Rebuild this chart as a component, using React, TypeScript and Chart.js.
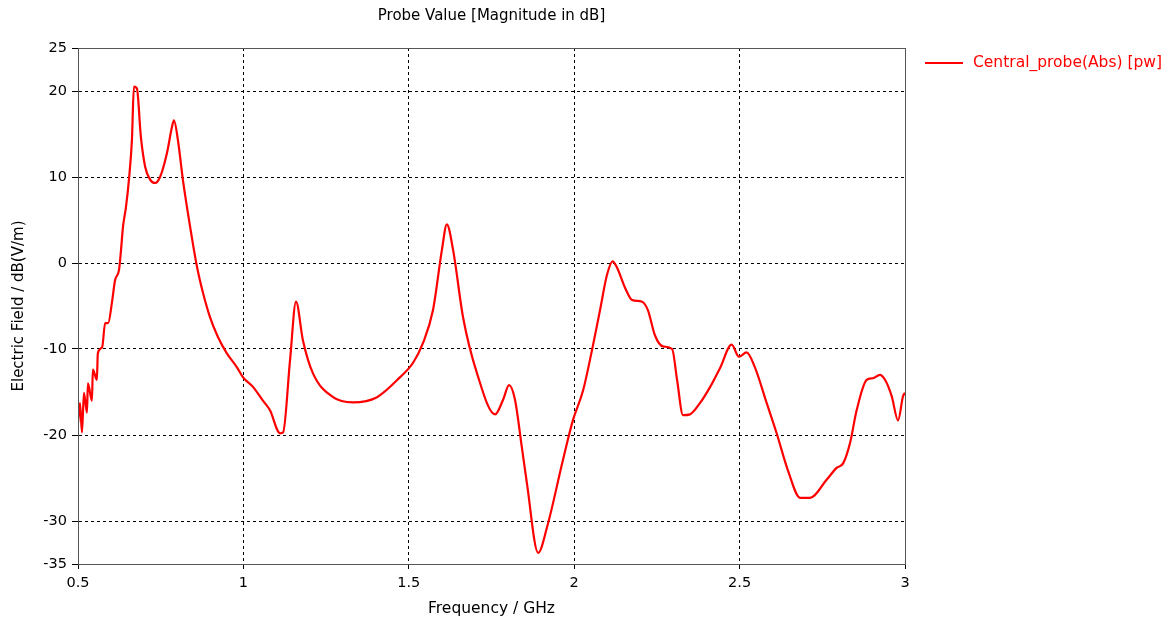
import { useEffect, useRef } from "react";
import { Chart, registerables } from "chart.js";

Chart.register(...registerables);

const frequencyGHz = [
  0.5, 0.506, 0.512, 0.518, 0.527, 0.53, 0.542, 0.545, 0.557, 0.56, 0.573, 0.582, 0.591, 0.603, 0.612,
  0.624, 0.63, 0.636, 0.645, 0.654, 0.663, 0.669, 0.678, 0.69, 0.703, 0.718, 0.733, 0.748, 0.769, 0.784,
  0.79, 0.802, 0.817, 0.839, 0.86, 0.878, 0.899, 0.923, 0.95, 0.98, 0.999, 1.029, 1.059, 1.08, 1.111,
  1.12, 1.141, 1.159, 1.18, 1.21, 1.271, 1.331, 1.404, 1.473, 1.513, 1.543, 1.573, 1.6, 1.615, 1.634,
  1.664, 1.706, 1.761, 1.785, 1.803, 1.821, 1.842, 1.857, 1.891, 1.918, 1.966, 1.996, 2.027, 2.054,
  2.078, 2.099, 2.116, 2.129, 2.154, 2.175, 2.205, 2.223, 2.244, 2.268, 2.296, 2.311, 2.329, 2.35,
  2.38, 2.411, 2.441, 2.476, 2.498, 2.521, 2.546, 2.582, 2.612, 2.646, 2.683, 2.713, 2.763, 2.794,
  2.813, 2.834, 2.854, 2.884, 2.903, 2.924, 2.94, 2.96, 2.979, 2.994, 3.0,
];

const fieldDb = [
  -18.6, -16.3, -19.7, -15.1, -17.4, -14.0, -16.0, -12.4, -13.6, -10.5, -9.8, -7.0, -7.0, -4.5, -2.0,
  -0.8, 1.5, 4.2, 6.5, 9.7, 14.3, 20.5, 20.3, 14.7, 11.2, 9.7, 9.3, 10.0, 12.8, 15.8,
  16.6, 14.3, 9.7, 4.2, -0.5, -3.5, -6.3, -8.6, -10.5, -12.1, -13.3, -14.4, -16.0, -17.1, -19.8,
  -19.7, -11.3, -4.5, -9.0, -12.8, -15.6, -16.2, -15.6, -13.3, -11.6, -9.3, -5.5, 1.5, 4.5, 1.5,
  -6.3, -12.8, -17.6, -15.9, -14.2, -15.9, -21.5, -25.6, -33.7, -30.7, -22.9, -18.3, -14.8, -10.1,
  -5.5, -1.4, 0.2, -0.5, -2.9, -4.3, -4.5, -5.5, -8.4, -9.7, -10.0, -13.6, -17.7, -17.6,
  -16.3, -14.4, -12.2, -9.5, -10.9, -10.4, -12.1, -16.3, -19.8, -24.1, -27.3, -27.3, -25.2, -23.8,
  -23.3, -20.9, -17.1, -13.6, -13.4, -13.0, -13.6, -15.5, -18.3, -15.5, -15.1,
];

const xTickValues = [0.5, 1, 1.5, 2, 2.5, 3];
const yTickValues = [-35, -30, -20, -10, 0, 10, 20, 25];

const chartTitle = "Probe Value [Magnitude in dB]";
const seriesLabel = "Central_probe(Abs) [pw]";
const xAxisTitle = "Frequency / GHz";
const yAxisTitle = "Electric Field / dB(V/m)";

const FONT = "'DejaVu Sans', Verdana, sans-serif";
const RED = "#ff0000";

export default function App() {
  const canvasRef = useRef<HTMLCanvasElement | null>(null);

  useEffect(() => {
    document.body.style.margin = "0";
    const canvas = canvasRef.current;
    if (!canvas) return;

    const framePlugin = {
      id: "frameAndLegend",
      afterDraw(chart: any) {
        const { ctx, chartArea } = chart;
        const { left, right, top, bottom } = chartArea;
        ctx.save();
        ctx.strokeStyle = "#555555";
        ctx.lineWidth = 1;
        ctx.setLineDash([]);
        ctx.strokeRect(left + 0.5, top + 0.5, right - left, bottom - top);

        ctx.fillStyle = "#000000";
        ctx.font = `15px ${FONT}`;
        ctx.textAlign = "center";
        ctx.textBaseline = "middle";
        ctx.fillText(chartTitle, (left + right) / 2, 16);

        ctx.strokeStyle = RED;
        ctx.lineWidth = 2;
        ctx.beginPath();
        ctx.moveTo(right + 20, 63);
        ctx.lineTo(right + 58, 63);
        ctx.stroke();
        ctx.fillStyle = RED;
        ctx.textAlign = "left";
        ctx.font = `15.5px ${FONT}`;
        ctx.fillText(seriesLabel, right + 68, 63);
        ctx.restore();
      },
    };

    const chart = new Chart(canvas, {
      type: "line",
      data: {
        datasets: [
          {
            label: seriesLabel,
            data: frequencyGHz.map((f, i) => ({ x: f, y: fieldDb[i] })),
            borderColor: RED,
            backgroundColor: RED,
            borderWidth: 2.2,
            pointRadius: 0,
            cubicInterpolationMode: "monotone",
            fill: false,
          },
        ],
      },
      options: {
        animation: false,
        responsive: false,
        maintainAspectRatio: false,
        layout: { padding: { top: 48, right: 266, left: 0, bottom: 0 } },
        plugins: {
          legend: { display: false },
          title: { display: false },
          tooltip: { enabled: false },
        },
        scales: {
          x: {
            type: "linear",
            min: 0.5,
            max: 3,
            afterBuildTicks: (scale: any) => {
              scale.ticks = xTickValues.map((v) => ({ value: v }));
            },
            afterFit: (scale: any) => {
              scale.height = 60;
            },
            ticks: {
              color: "#000",
              font: { family: FONT, size: 14.5 },
              padding: 6,
              maxRotation: 0,
              callback: (v: any) => String(v),
            },
            grid: { color: "#000", lineWidth: 1, tickLength: 5, tickColor: "#000" },
            border: { display: true, color: "#555", dash: [3, 3] },
            title: {
              display: true,
              text: xAxisTitle,
              color: "#000",
              font: { family: FONT, size: 15.5 },
              padding: { top: 0, bottom: 6 },
            },
          },
          y: {
            type: "linear",
            min: -35,
            max: 25,
            afterBuildTicks: (scale: any) => {
              scale.ticks = yTickValues.map((v) => ({ value: v }));
            },
            afterFit: (scale: any) => {
              scale.width = 78;
            },
            ticks: {
              color: "#000",
              font: { family: FONT, size: 14.5 },
              padding: 5,
              callback: (v: any) => String(v),
            },
            grid: { color: "#000", lineWidth: 1, tickLength: 6, tickColor: "#000" },
            border: { display: true, color: "#555", dash: [3, 3] },
            title: {
              display: true,
              text: yAxisTitle,
              color: "#000",
              font: { family: FONT, size: 15 },
              padding: { top: 10, bottom: 0 },
            },
          },
        },
      },
      plugins: [framePlugin],
    } as any);

    return () => {
      chart.destroy();
    };
  }, []);

  return (
    <div style={{ position: "absolute", left: 0, top: 0, width: 1171, height: 624, background: "#fff" }}>
      <canvas ref={canvasRef} width={1171} height={624} />
    </div>
  );
}
